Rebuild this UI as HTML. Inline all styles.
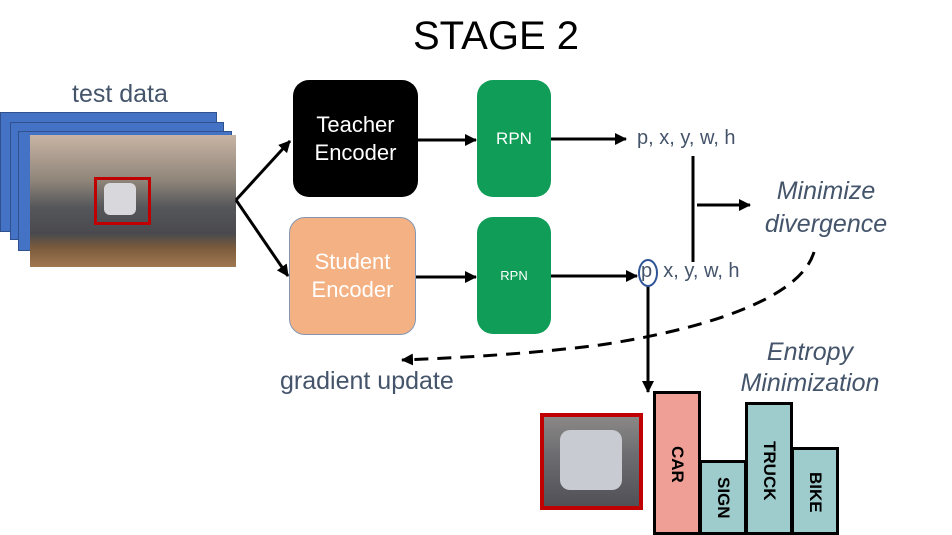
<!DOCTYPE html>
<html><head><meta charset="utf-8"><style>
body{margin:0;width:952px;height:535px;background:#fff;position:relative;overflow:hidden;font-family:"Liberation Sans",sans-serif}
.t{position:absolute;white-space:nowrap;color:#44546a}
.box{position:absolute;border-radius:16px;color:#fff;display:flex;align-items:center;justify-content:center;text-align:center;box-sizing:border-box}
.bar{position:absolute;border:3px solid #000;box-sizing:border-box;display:flex;justify-content:center;font-weight:bold;font-size:17px;color:#000}
.bar span{writing-mode:vertical-rl;margin-top:var(--m)}
</style></head><body>
<div class="t" style="left:0;width:992px;text-align:center;top:14px;font-size:40px;color:#000">STAGE 2</div>
<div class="t" style="left:72px;top:80px;font-size:25px">test data</div>
<div style="position:absolute;left:0;top:112px;width:215px;height:118px;background:#4472c4;border:1px solid #2f528f"></div>
<div style="position:absolute;left:10px;top:122px;width:212px;height:116px;background:#4472c4;border:1px solid #2f528f"></div>
<div style="position:absolute;left:18px;top:131px;width:212px;height:118px;background:#4472c4;border:1px solid #2f528f"></div>
<div style="position:absolute;left:30px;top:135px;width:206px;height:132px;background:linear-gradient(180deg,#c8b4a4 0%,#8e8479 35%,#55565a 55%,#4a4a4e 75%,#7a5a3c 85%,#a07850 100%)"></div>
<div style="position:absolute;left:94px;top:177px;width:57px;height:48px;border:3px solid #c00000;box-sizing:border-box"></div>
<div style="position:absolute;left:104px;top:183px;width:32px;height:32px;background:#d8d8dc;border-radius:6px"></div>
<div class="box" style="left:293px;top:80px;width:125px;height:117px;background:#000;font-size:22px;line-height:28px">Teacher<br>Encoder</div>
<div class="box" style="left:289px;top:217px;width:127px;height:118px;background:#f4b183;border:1px solid #8497b0;font-size:22px;line-height:28px">Student<br>Encoder</div>
<div class="box" style="left:477px;top:80px;width:74px;height:117px;background:#0f9d58;font-size:17px">RPN</div>
<div class="box" style="left:477px;top:217px;width:74px;height:117px;background:#0f9d58;font-size:13px">RPN</div>
<div class="t" style="left:637px;top:127px;font-size:20px">p, x, y, w, h</div>
<div class="t" style="left:641px;top:260px;font-size:20px">p&nbsp; x, y, w, h</div>
<div class="t" style="left:756px;top:175px;font-size:25px;font-style:italic;text-align:center;width:140px;line-height:33px">Minimize<br>divergence</div>
<div class="t" style="left:735px;top:337px;font-size:25px;font-style:italic;text-align:center;width:150px;line-height:31px">Entropy<br>Minimization</div>
<div class="t" style="left:280px;top:367px;font-size:25px">gradient update</div>
<svg width="952" height="535" style="position:absolute;left:0;top:0">
<defs><marker id="b" markerWidth="12" markerHeight="12" refX="11" refY="6" orient="auto" markerUnits="userSpaceOnUse"><path d="M0,0L12,6L0,12z" fill="#000"/></marker></defs>
<g stroke="#000" stroke-width="3" fill="none">
<line x1="236" y1="200" x2="290" y2="141" marker-end="url(#b)"/>
<line x1="236" y1="200" x2="288" y2="276" marker-end="url(#b)"/>
<line x1="418" y1="140" x2="476" y2="140" marker-end="url(#b)"/>
<line x1="416" y1="277" x2="476" y2="277" marker-end="url(#b)"/>
<line x1="551" y1="139" x2="626" y2="139" marker-end="url(#b)"/>
<line x1="551" y1="276" x2="637" y2="276" marker-end="url(#b)"/>
<line x1="693" y1="156" x2="693" y2="262"/>
<line x1="697" y1="205" x2="750" y2="205" marker-end="url(#b)"/>
<line x1="648" y1="285" x2="648" y2="392" marker-end="url(#b)"/>
<path d="M814,252 C800,300 700,330 600,345 C520,355 450,358 402,360" stroke-dasharray="14,9" marker-end="url(#b)"/>
</g>
<ellipse cx="648" cy="273" rx="9" ry="13" fill="none" stroke="#2f5597" stroke-width="2"/>
</svg>
<div style="position:absolute;left:540px;top:413px;width:103px;height:97px;border:4px solid #c00000;box-sizing:border-box;background:linear-gradient(180deg,#8a8886 0%,#6e6e72 40%,#505056 100%)"></div>
<div style="position:absolute;left:560px;top:430px;width:62px;height:60px;background:#c8ccd2;border-radius:10px"></div>
<div class="bar" style="left:653px;top:391px;width:48px;height:144px;background:#f09f96;--m:52px"><span>CAR</span></div>
<div class="bar" style="left:699px;top:460px;width:48px;height:75px;background:#9ecbcb;--m:14px"><span>SIGN</span></div>
<div class="bar" style="left:745px;top:402px;width:48px;height:133px;background:#9ecbcb;--m:36px"><span>TRUCK</span></div>
<div class="bar" style="left:791px;top:447px;width:48px;height:88px;background:#9ecbcb;--m:22px"><span>BIKE</span></div>
</body></html>
